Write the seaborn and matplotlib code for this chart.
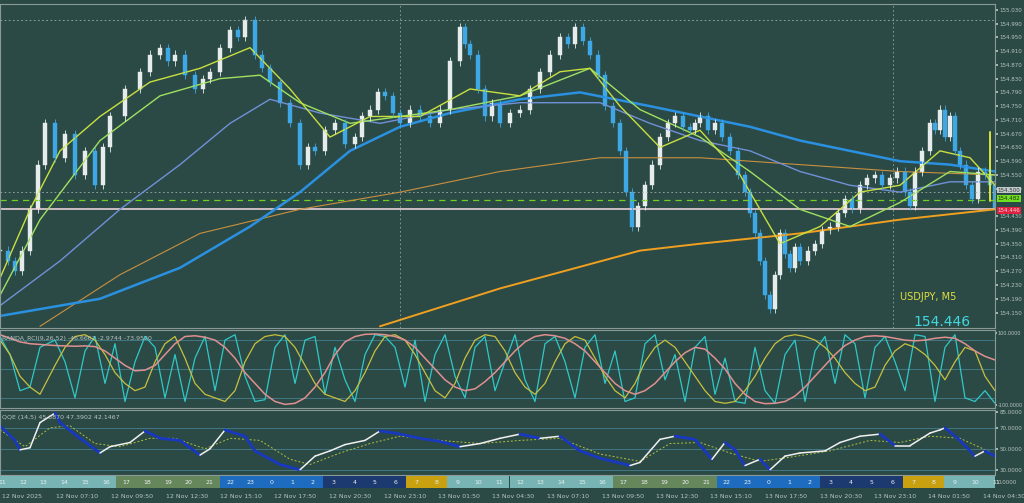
import numpy as np
import pandas as pd
import matplotlib
matplotlib.use("Agg")
import matplotlib.pyplot as plt
import seaborn as sns

sns.set_theme(style="dark")
plt.rcParams['font.family'] = ['DejaVu Sans']

BG = "#2c4a45"
TXT = "#b8c4c2"

# ---------------- data ----------------
price_x = [0, 8, 15, 22, 30, 38, 45, 55, 65, 75, 85, 95, 103, 110, 125, 140, 150, 160, 168, 175, 185, 195, 203,
           210, 220, 230, 238, 245, 255, 262, 270, 280, 290, 300, 308, 315, 325, 335, 345, 355, 362, 370, 378,
           385, 393, 400, 410, 420, 430, 440, 450, 460, 465, 470, 478, 485, 492, 500, 510, 520, 530, 540, 550,
           560, 568, 575, 583, 590, 598, 605, 613, 620, 626, 632, 638, 645, 652, 660, 668, 675, 683, 690, 695,
           700, 708, 715, 722, 730, 738, 745, 750, 755, 760, 765, 770, 775, 780, 785, 790, 795, 800, 808, 815,
           822, 830, 838, 845, 852, 860, 867, 875, 882, 890, 897, 905, 910, 915, 922, 930, 935, 940, 945, 950,
           955, 960, 966, 972, 978, 985, 990, 995]
price_close = [154.33, 154.30, 154.27, 154.33, 154.45, 154.58, 154.70, 154.60, 154.67, 154.55, 154.62, 154.52, 154.63,
               154.72, 154.80, 154.85, 154.90, 154.92, 154.88, 154.90, 154.84, 154.80, 154.83, 154.85, 154.92,
               154.97, 154.95, 155.00, 154.90, 154.86, 154.82, 154.76, 154.70, 154.58, 154.63, 154.62, 154.68,
               154.70, 154.64, 154.66, 154.72, 154.74, 154.79, 154.78, 154.73, 154.70, 154.74, 154.72, 154.70,
               154.74, 154.88, 154.98, 154.93, 154.90, 154.80, 154.72, 154.76, 154.70, 154.73, 154.74, 154.80,
               154.85, 154.90, 154.95, 154.93, 154.98, 154.94, 154.90, 154.84, 154.75, 154.70, 154.62, 154.50,
               154.40, 154.46, 154.52, 154.58, 154.66, 154.70, 154.72, 154.69, 154.68, 154.70, 154.72, 154.68,
               154.70, 154.66, 154.62, 154.55, 154.50, 154.44, 154.38, 154.30, 154.20, 154.16, 154.26, 154.38,
               154.32, 154.28, 154.34, 154.30, 154.33, 154.35, 154.39, 154.40, 154.44, 154.48, 154.45, 154.52,
               154.54, 154.55, 154.52, 154.54, 154.56, 154.50, 154.46, 154.56, 154.62, 154.70, 154.68, 154.74,
               154.66, 154.72, 154.62, 154.58, 154.52, 154.48, 154.56, 154.55, 154.52, 154.45]

ma_x_orange = [380, 500, 640, 700, 800, 900, 995]
ma_orange = [154.11, 154.22, 154.33, 154.35, 154.38, 154.42, 154.45]
ma_x_tan = [40, 120, 200, 300, 400, 500, 600, 700, 800, 900, 995]
ma_tan = [154.11, 154.26, 154.38, 154.45, 154.50, 154.56, 154.60, 154.60, 154.58, 154.56, 154.55]
ma_x_blue = [0, 100, 180, 250, 300, 350, 400, 450, 520, 580, 650, 700, 750, 800, 850, 900, 950, 995]
ma_blue = [154.14, 154.19, 154.28, 154.40, 154.50, 154.62, 154.69, 154.73, 154.77, 154.79, 154.75, 154.72, 154.69,
           154.65, 154.62, 154.59, 154.58, 154.56]
ma_x_lblue = [0, 60, 120, 180, 230, 270, 320, 380, 450, 520, 600, 650, 700, 750, 800, 850, 900, 950, 995]
ma_lblue = [154.17, 154.30, 154.45, 154.58, 154.70, 154.77, 154.73, 154.70, 154.74, 154.76, 154.76, 154.70, 154.65,
            154.62, 154.56, 154.52, 154.50, 154.53, 154.53]
ma_x_green = [0, 40, 100, 160, 220, 260, 300, 350, 400, 450, 520, 590, 640, 700, 750, 800, 850, 900, 950, 995]
ma_green = [154.20, 154.42, 154.65, 154.78, 154.83, 154.84, 154.76, 154.70, 154.72, 154.74, 154.78, 154.86, 154.74,
            154.66, 154.56, 154.45, 154.40, 154.47, 154.56, 154.55]
ma_x_yg = [0, 30, 60, 100, 150, 200, 250, 290, 330, 370, 420, 470, 520, 560, 590, 620, 660, 700, 740, 780, 820, 860,
           900, 940, 970, 995]
ma_yg = [154.25, 154.45, 154.62, 154.72, 154.82, 154.86, 154.92, 154.80, 154.66, 154.72, 154.72, 154.80, 154.78,
         154.85, 154.86, 154.75, 154.63, 154.68, 154.55, 154.35, 154.40, 154.50, 154.52, 154.62, 154.60, 154.52]

price_ticks = [155.030, 154.990, 154.950, 154.910, 154.870, 154.830, 154.790, 154.750, 154.710, 154.670, 154.630,
               154.590, 154.550, 154.510, 154.430, 154.390, 154.350, 154.310, 154.270, 154.230,
               154.190, 154.150]

rci_x = [0, 10, 20, 30, 40, 55, 65, 75, 85, 95, 105, 115, 125, 135, 145, 155, 165, 175, 185, 195, 205, 215, 225,
         235, 245, 255, 265, 275, 285, 295, 305, 315, 325, 335, 345, 355, 365, 375, 385, 395, 405, 415, 425, 435,
         445, 455, 465, 475, 485, 495, 505, 515, 525, 535, 545, 555, 565, 575, 585, 595, 605, 615, 625, 635, 645,
         655, 665, 675, 685, 695, 705, 715, 725, 735, 745, 755, 765, 775, 785, 795, 805, 815, 825, 835, 845, 855,
         865, 875, 885, 895, 905, 915, 925, 935, 945, 955, 965, 975, 985, 995]
rci_fast = [90, 40, -60, -50, 60, 80, 20, -80, 50, 90, -40, 70, -90, 20, 90, 60, -80, 40, -90, 30, 90, -60, 80, 95,
            -20, -90, -85, 60, 95, -40, 80, 90, -70, 60, -30, -90, 40, 95, 90, 60, -50, 80, -90, 40, 95, -20, -80,
            60, 90, -60, 20, 95, -30, -90, 70, 90, 20, -80, 60, 95, -40, 50, -90, -80, 70, 95, -30, 40, -90, 60,
            90, -70, 30, -90, -95, 60, -60, -95, 40, 80, -90, 50, 90, -40, 95, 70, -80, 60, 90, 20, -60, 95, 90,
            -90, 60, 95, -80, -90, -60, -95]
rci_mid = [80, 40, -20, -50, -70, 10, 60, 90, 95, 80, 40, -10, -40, -60, -50, 20, 70, 90, 30, -40, -70, -80, -90,
           -60, 20, 70, 90, 95, 90, 60, 10, -40, -70, -80, -90, -60, -10, 50, 90, 95, 80, 40, -10, -60, -80, -40,
           30, 80, 95, 90, 50, -10, -50, -70, -40, 20, 70, 90, 80, 30, -20, -60, -80, -40, 20, 60, 80, 60, 20, -20,
           -60, -90, -95, -90, -60, -20, 30, 70, 90, 95, 90, 80, 60, 30, -10, -40, -60, -50, 10, 50, 70, 60, 40,
           10, -30, 20, 60, 50, -20, -60]
rci_slow = [95, 85, 75, 70, 68, 65, 64, 63, 64, 62, 50, 30, 10, -5, -3, 10, 40, 70, 90, 92, 88, 80, 60, 30, -10,
            -40, -70, -90, -98, -95, -80, -50, -10, 40, 75, 90, 96, 97, 95, 90, 80, 60, 30, 0, -30, -50, -60, -55,
            -35, -10, 20, 50, 75, 90, 95, 92, 85, 70, 50, 20, -10, -40, -60, -70, -60, -40, -10, 20, 45, 60, 55,
            30, 0, -40, -70, -90, -96, -95, -90, -75, -50, -20, 10, 40, 65, 80, 90, 92, 90, 85, 80, 78, 80, 85, 88,
            85, 70, 50, 35, 25]

qqe_x = [0, 15, 20, 30, 40, 55, 60, 80, 100, 110, 130, 145, 160, 180, 200, 210, 225, 245, 255, 280, 300, 315, 330,
         345, 365, 380, 395, 420, 440, 460, 480, 500, 520, 540, 560, 580, 600, 630, 640, 660, 675, 695, 712, 725,
         735, 745, 760, 770, 785, 800, 825, 840, 860, 880, 895, 910, 930, 940, 945, 960, 975, 985, 995]
qqe_main = [72, 58, 49, 51, 75, 84, 75, 60, 46, 52, 56, 67, 60, 58, 44, 50, 68, 62, 48, 35, 30, 43, 48, 54, 58, 67,
            65, 60, 57, 52, 55, 60, 64, 60, 62, 48, 41, 34, 37, 59, 62, 59, 40, 56, 49, 34, 40, 30, 43, 46, 48, 56,
            62, 64, 53, 53, 65, 68, 70, 58, 43, 48, 43]
qqe_sig_x = [0, 25, 50, 70, 95, 120, 150, 175, 205, 230, 260, 290, 310, 340, 370, 400, 440, 480, 520, 560, 600,
             640, 670, 700, 730, 760, 790, 830, 870, 900, 930, 960, 990]
qqe_sig = [68, 52, 70, 72, 55, 52, 60, 60, 50, 60, 58, 40, 35, 46, 55, 62, 58, 55, 58, 60, 45, 38, 55, 56, 46, 38,
           42, 48, 58, 56, 62, 60, 47]

session_hours = [11, 12, 13, 14, 15, 16, 17, 18, 19, 20, 21, 22, 23, 0, 1, 2, 3, 4, 5, 6, 7, 8, 9, 10, 11, 12, 13,
                 14, 15, 16, 17, 18, 19, 20, 21, 22, 23, 0, 1, 2, 3, 4, 5, 6, 7, 8, 9, 10, 11]
date_labels = ["12 Nov 2025", "12 Nov 07:10", "12 Nov 09:50", "12 Nov 12:30", "12 Nov 15:10", "12 Nov 17:50",
               "12 Nov 20:30", "12 Nov 23:10", "13 Nov 01:50", "13 Nov 04:30", "13 Nov 07:10", "13 Nov 09:50",
               "13 Nov 12:30", "13 Nov 15:10", "13 Nov 17:50", "13 Nov 20:30", "13 Nov 23:10", "14 Nov 01:50",
               "14 Nov 04:30"]

# ---------------- figure ----------------
W, H = 1024, 503
fig = plt.figure(figsize=(W / 100, H / 100), dpi=100, facecolor=BG)
XR = (0, 995)
FS = 4.0


def mk(top, bot):
    ax = fig.add_axes([0, 1 - bot / H, 995 / W, (bot - top) / H])
    ax.set_facecolor(BG)
    ax.set_xlim(*XR)
    ax.set_xticks([])
    for s in ax.spines.values():
        s.set_color("#8a9a98")
        s.set_linewidth(0.8)
    ax.yaxis.tick_right()
    ax.tick_params(axis="y", colors=TXT, labelsize=FS, length=2, pad=1)
    ax.grid(False)
    return ax


ax = mk(4, 328)
ax.set_ylim(154.105, 155.047)
ax.set_yticks(price_ticks)
ax.set_yticklabels([f"{t:.3f}" for t in price_ticks])

for vx in [400, 893]:
    ax.axvline(vx, color="#8fa5a2", lw=0.6, ls=(0, (2, 3)))
ax.axhline(155.000, color="#9fb0ad", lw=0.6, ls=(0, (2, 3)))
ax.axhline(154.500, color="#9fb0ad", lw=0.6, ls=(0, (2, 3)))
ax.axhline(154.478, color="#6fd020", lw=0.9, ls=(0, (5, 4)))
ax.axhline(154.450, color="#e8d0d8", lw=1.2)

sns.lineplot(x=ma_x_orange, y=ma_orange, ax=ax, color="#f0a020", lw=1.4)
sns.lineplot(x=ma_x_tan, y=ma_tan, ax=ax, color="#c89040", lw=0.8)
sns.lineplot(x=ma_x_blue, y=ma_blue, ax=ax, color="#2a90e0", lw=1.8)
sns.lineplot(x=ma_x_lblue, y=ma_lblue, ax=ax, color="#7090d8", lw=1.0)
sns.lineplot(x=ma_x_green, y=ma_green, ax=ax, color="#a0e060", lw=1.0)
sns.lineplot(x=ma_x_yg, y=ma_yg, ax=ax, color="#c8e040", lw=1.0)

opens = [price_close[0]] + price_close[:-1]
for x, o, c in zip(price_x, opens, price_close):
    up = c >= o
    col = "#e6ecec" if up else "#3ea8e6"
    lo, hi = min(o, c), max(o, c)
    ax.vlines(x, lo - 0.012, hi + 0.012, color=col, lw=0.6)
    ax.bar(x, max(hi - lo, 0.002), bottom=lo, width=3.2, color=col, edgecolor=col, lw=0.3)

ax.plot([990, 990], [154.475, 154.675], color="#e8f040", lw=1.3)
ax.text(0.905, 0.085, "USDJPY, M5", transform=ax.transAxes, color="#e0e040", fontsize=7)
ax.text(0.918, 0.005, "154.446", transform=ax.transAxes, color="#40d8e0", fontsize=10)
for val, fc, tc in [(154.506, "#c0c8c8", "#303838"), (154.482, "#70e020", "#203010"), (154.446, "#e02040", "#f0d0d8")]:
    ax.annotate(f"{val:.3f}" if val != 154.506 else "154.500", xy=(1.0, val), xycoords=("axes fraction", "data"),
                xytext=(2, 0), textcoords="offset points", va="center", fontsize=FS, color=tc,
                bbox=dict(boxstyle="square,pad=0.15", fc=fc, ec="none"), annotation_clip=False)

# RCI panel
ax2 = mk(330, 408)
ax2.set_ylim(-108, 108)
ax2.set_yticks([100, -100])
ax2.set_yticklabels(["100.0000", "-100.0000"])
ax2.tick_params(axis="y", labelsize=3.5, pad=0.5, length=1.5)
for lv in [80, 0, -80]:
    ax2.axhline(lv, color="#4a8aa0", lw=0.5)
sns.lineplot(x=rci_x, y=rci_fast, ax=ax2, color="#30c8c8", lw=0.9)
sns.lineplot(x=rci_x, y=rci_mid, ax=ax2, color="#c8c040", lw=0.9)
sns.lineplot(x=rci_x, y=rci_slow, ax=ax2, color="#e09090", lw=1.1)
ax2.text(0.002, 0.93, "RANDA_RCI(9,26,52) -46.6667 -2.9744 -73.9520", transform=ax2.transAxes,
         color=TXT, fontsize=4.5, va="top")

# QQE panel
ax3 = mk(410, 475)
ax3.set_ylim(25, 87)
ax3.set_yticks([85, 70, 50, 30])
ax3.set_yticklabels(["85.0000", "70.0000", "50.0000", "30.0000"])
for lv in [70, 50, 30]:
    ax3.axhline(lv, color="#4a8aa0", lw=0.5)
sns.lineplot(x=qqe_sig_x, y=qqe_sig, ax=ax3, color="#b0c040", lw=0.7, ls=(0, (2, 2)))
for i in range(len(qqe_x) - 1):
    rising = qqe_main[i + 1] >= qqe_main[i]
    ax3.plot(qqe_x[i:i + 2], qqe_main[i:i + 2], color="#f0f0f0" if rising else "#1838c0",
             lw=1.1 if rising else 2.0, solid_capstyle="round")
ax3.text(0.002, 0.93, "QQE (14,5) 45.3870 47.3902 42.1467", transform=ax3.transAxes,
         color=TXT, fontsize=4.5, va="top")

# session bar
ax4 = fig.add_axes([0, 1 - 488 / H, 995 / W, 12 / H])
ax4.set_xlim(*XR)
ax4.set_ylim(0, 1)
ax4.axis("off")
hw = 20.7
start = -8
for i, h in enumerate(session_hours):
    if h in (12, 13, 14, 15, 16, 9, 10, 11):
        c = "#78b4b4"
    elif h in (17, 18, 19, 20, 21):
        c = "#66865c"
    elif h in (22, 23, 0, 1, 2):
        c = "#1e6cc0"
    elif h in (3, 4, 5, 6):
        c = "#1c3a70"
    else:
        c = "#c8a010"
    x0 = start + i * hw
    ax4.add_patch(plt.Rectangle((x0, 0), hw, 1, color=c, lw=0))
    ax4.text(x0 + hw / 2, 0.5, str(h), color="#e8f0f0", fontsize=4.5, ha="center", va="center")

for i, lab in enumerate(date_labels):
    fig.text((2 + i * 54.5) / W, 1 - 496 / H, lab, color=TXT, fontsize=4.5, va="center")
fig.text(998 / W, 1 - 483 / H, "0.0000", color=TXT, fontsize=FS, va="center")

fig.savefig("out.png", dpi=100, facecolor=BG)
